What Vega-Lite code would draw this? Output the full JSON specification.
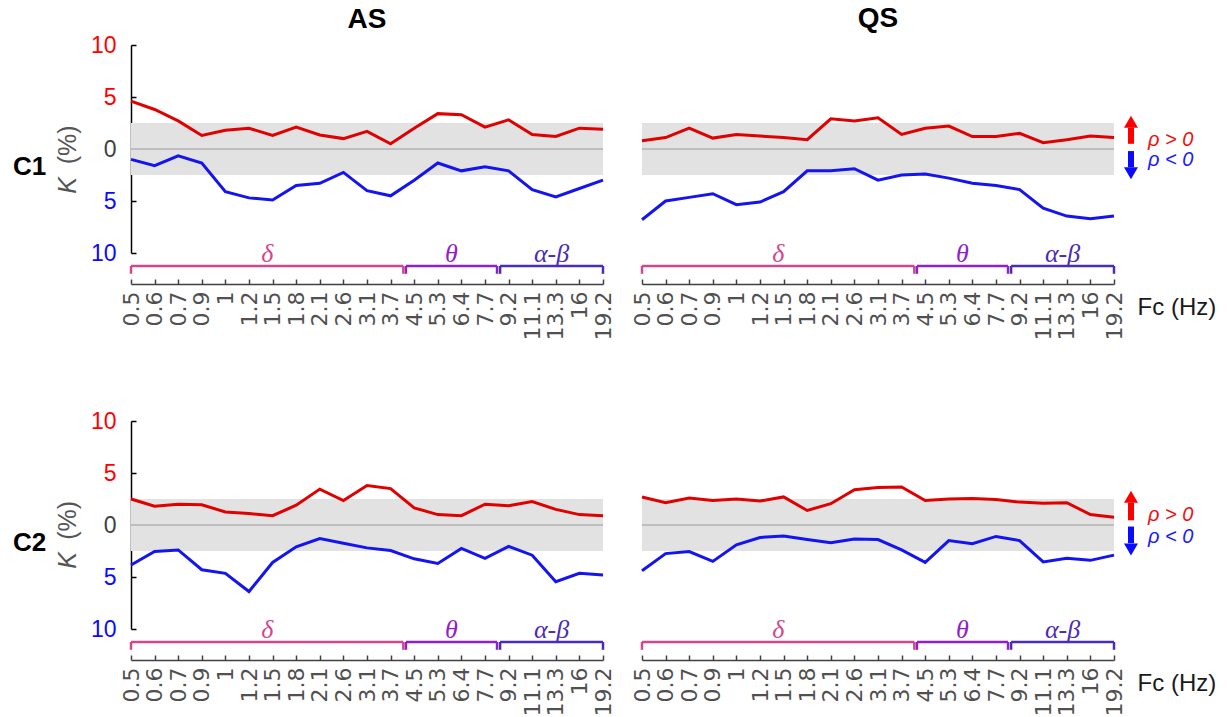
{
"$schema": "https://vega.github.io/schema/vega-lite/v6.json",
"padding": {"left": 12, "top": 5, "right": 5, "bottom": 5},
"background": "white",
"config": {"view": {"stroke": null}, "font": "Liberation Sans", "title": {"fontSize": 28, "fontWeight": "bold", "color": "#000000", "anchor": "middle"}},
"datasets": {"bands": [
 {"band": "δ", "start": 0, "end": 11.54, "mid": 5.77},
 {"band": "θ", "start": 11.65, "end": 15.51, "mid": 13.58},
 {"band": "α-β", "start": 15.64, "end": 20, "mid": 17.82}
]},
"data": {"values": [
{"ch":"C1","st":"AS","fc":"0.5","i":0,"pos":4.6,"neg":-1.0},
{"ch":"C1","st":"AS","fc":"0.6","i":1,"pos":3.8,"neg":-1.6},
{"ch":"C1","st":"AS","fc":"0.7","i":2,"pos":2.7,"neg":-0.65},
{"ch":"C1","st":"AS","fc":"0.9","i":3,"pos":1.3,"neg":-1.35},
{"ch":"C1","st":"AS","fc":"1","i":4,"pos":1.8,"neg":-4.1},
{"ch":"C1","st":"AS","fc":"1.2","i":5,"pos":2.0,"neg":-4.7},
{"ch":"C1","st":"AS","fc":"1.5","i":6,"pos":1.3,"neg":-4.9},
{"ch":"C1","st":"AS","fc":"1.8","i":7,"pos":2.1,"neg":-3.5},
{"ch":"C1","st":"AS","fc":"2.1","i":8,"pos":1.35,"neg":-3.3},
{"ch":"C1","st":"AS","fc":"2.6","i":9,"pos":1.0,"neg":-2.25},
{"ch":"C1","st":"AS","fc":"3.1","i":10,"pos":1.7,"neg":-4.0},
{"ch":"C1","st":"AS","fc":"3.7","i":11,"pos":0.5,"neg":-4.5},
{"ch":"C1","st":"AS","fc":"4.5","i":12,"pos":2.0,"neg":-3.0},
{"ch":"C1","st":"AS","fc":"5.3","i":13,"pos":3.4,"neg":-1.35},
{"ch":"C1","st":"AS","fc":"6.4","i":14,"pos":3.3,"neg":-2.1},
{"ch":"C1","st":"AS","fc":"7.7","i":15,"pos":2.1,"neg":-1.7},
{"ch":"C1","st":"AS","fc":"9.2","i":16,"pos":2.8,"neg":-2.1},
{"ch":"C1","st":"AS","fc":"11.1","i":17,"pos":1.4,"neg":-3.9},
{"ch":"C1","st":"AS","fc":"13.3","i":18,"pos":1.2,"neg":-4.6},
{"ch":"C1","st":"AS","fc":"16","i":19,"pos":2.0,"neg":-3.8},
{"ch":"C1","st":"AS","fc":"19.2","i":20,"pos":1.9,"neg":-3.0},
{"ch":"C1","st":"QS","fc":"0.5","i":0,"pos":0.8,"neg":-6.8},
{"ch":"C1","st":"QS","fc":"0.6","i":1,"pos":1.1,"neg":-5.0},
{"ch":"C1","st":"QS","fc":"0.7","i":2,"pos":2.0,"neg":-4.65},
{"ch":"C1","st":"QS","fc":"0.9","i":3,"pos":1.05,"neg":-4.3},
{"ch":"C1","st":"QS","fc":"1","i":4,"pos":1.4,"neg":-5.35},
{"ch":"C1","st":"QS","fc":"1.2","i":5,"pos":1.25,"neg":-5.1},
{"ch":"C1","st":"QS","fc":"1.5","i":6,"pos":1.1,"neg":-4.1},
{"ch":"C1","st":"QS","fc":"1.8","i":7,"pos":0.9,"neg":-2.1},
{"ch":"C1","st":"QS","fc":"2.1","i":8,"pos":2.9,"neg":-2.1},
{"ch":"C1","st":"QS","fc":"2.6","i":9,"pos":2.7,"neg":-1.9},
{"ch":"C1","st":"QS","fc":"3.1","i":10,"pos":3.0,"neg":-3.0},
{"ch":"C1","st":"QS","fc":"3.7","i":11,"pos":1.4,"neg":-2.5},
{"ch":"C1","st":"QS","fc":"4.5","i":12,"pos":2.0,"neg":-2.4},
{"ch":"C1","st":"QS","fc":"5.3","i":13,"pos":2.2,"neg":-2.8},
{"ch":"C1","st":"QS","fc":"6.4","i":14,"pos":1.2,"neg":-3.3},
{"ch":"C1","st":"QS","fc":"7.7","i":15,"pos":1.2,"neg":-3.5},
{"ch":"C1","st":"QS","fc":"9.2","i":16,"pos":1.5,"neg":-3.9},
{"ch":"C1","st":"QS","fc":"11.1","i":17,"pos":0.6,"neg":-5.7},
{"ch":"C1","st":"QS","fc":"13.3","i":18,"pos":0.9,"neg":-6.45},
{"ch":"C1","st":"QS","fc":"16","i":19,"pos":1.25,"neg":-6.7},
{"ch":"C1","st":"QS","fc":"19.2","i":20,"pos":1.1,"neg":-6.45},
{"ch":"C2","st":"AS","fc":"0.5","i":0,"pos":2.5,"neg":-3.85},
{"ch":"C2","st":"AS","fc":"0.6","i":1,"pos":1.8,"neg":-2.55},
{"ch":"C2","st":"AS","fc":"0.7","i":2,"pos":2.0,"neg":-2.4},
{"ch":"C2","st":"AS","fc":"0.9","i":3,"pos":1.95,"neg":-4.3},
{"ch":"C2","st":"AS","fc":"1","i":4,"pos":1.25,"neg":-4.65},
{"ch":"C2","st":"AS","fc":"1.2","i":5,"pos":1.1,"neg":-6.4},
{"ch":"C2","st":"AS","fc":"1.5","i":6,"pos":0.9,"neg":-3.6},
{"ch":"C2","st":"AS","fc":"1.8","i":7,"pos":1.9,"neg":-2.1},
{"ch":"C2","st":"AS","fc":"2.1","i":8,"pos":3.45,"neg":-1.3},
{"ch":"C2","st":"AS","fc":"2.6","i":9,"pos":2.35,"neg":-1.75},
{"ch":"C2","st":"AS","fc":"3.1","i":10,"pos":3.8,"neg":-2.2},
{"ch":"C2","st":"AS","fc":"3.7","i":11,"pos":3.5,"neg":-2.45},
{"ch":"C2","st":"AS","fc":"4.5","i":12,"pos":1.65,"neg":-3.25},
{"ch":"C2","st":"AS","fc":"5.3","i":13,"pos":1.0,"neg":-3.7},
{"ch":"C2","st":"AS","fc":"6.4","i":14,"pos":0.9,"neg":-2.25},
{"ch":"C2","st":"AS","fc":"7.7","i":15,"pos":2.0,"neg":-3.2},
{"ch":"C2","st":"AS","fc":"9.2","i":16,"pos":1.85,"neg":-2.05},
{"ch":"C2","st":"AS","fc":"11.1","i":17,"pos":2.25,"neg":-2.9},
{"ch":"C2","st":"AS","fc":"13.3","i":18,"pos":1.5,"neg":-5.45},
{"ch":"C2","st":"AS","fc":"16","i":19,"pos":1.0,"neg":-4.65},
{"ch":"C2","st":"AS","fc":"19.2","i":20,"pos":0.9,"neg":-4.8},
{"ch":"C2","st":"QS","fc":"0.5","i":0,"pos":2.7,"neg":-4.4},
{"ch":"C2","st":"QS","fc":"0.6","i":1,"pos":2.15,"neg":-2.75},
{"ch":"C2","st":"QS","fc":"0.7","i":2,"pos":2.6,"neg":-2.55},
{"ch":"C2","st":"QS","fc":"0.9","i":3,"pos":2.35,"neg":-3.5},
{"ch":"C2","st":"QS","fc":"1","i":4,"pos":2.5,"neg":-1.9},
{"ch":"C2","st":"QS","fc":"1.2","i":5,"pos":2.3,"neg":-1.2},
{"ch":"C2","st":"QS","fc":"1.5","i":6,"pos":2.7,"neg":-1.05},
{"ch":"C2","st":"QS","fc":"1.8","i":7,"pos":1.4,"neg":-1.4},
{"ch":"C2","st":"QS","fc":"2.1","i":8,"pos":2.05,"neg":-1.7},
{"ch":"C2","st":"QS","fc":"2.6","i":9,"pos":3.4,"neg":-1.35},
{"ch":"C2","st":"QS","fc":"3.1","i":10,"pos":3.6,"neg":-1.4},
{"ch":"C2","st":"QS","fc":"3.7","i":11,"pos":3.65,"neg":-2.4},
{"ch":"C2","st":"QS","fc":"4.5","i":12,"pos":2.35,"neg":-3.6},
{"ch":"C2","st":"QS","fc":"5.3","i":13,"pos":2.5,"neg":-1.5},
{"ch":"C2","st":"QS","fc":"6.4","i":14,"pos":2.55,"neg":-1.8},
{"ch":"C2","st":"QS","fc":"7.7","i":15,"pos":2.45,"neg":-1.1},
{"ch":"C2","st":"QS","fc":"9.2","i":16,"pos":2.2,"neg":-1.5},
{"ch":"C2","st":"QS","fc":"11.1","i":17,"pos":2.1,"neg":-3.55},
{"ch":"C2","st":"QS","fc":"13.3","i":18,"pos":2.15,"neg":-3.2},
{"ch":"C2","st":"QS","fc":"16","i":19,"pos":1.0,"neg":-3.4},
{"ch":"C2","st":"QS","fc":"19.2","i":20,"pos":0.75,"neg":-2.9}
]},
"columns": 2,
"bounds": "flush",
"spacing": {"row": 168, "column": 39},
"concat": [
{
 "width": 472, "height": 208,
 "title": {"text": "AS", "offset": 0},
 "resolve": {"scale": {"x": "independent"}, "axis": {"x": "independent"}},
 "layer": [
  {"layer": [
   {"data": {"values": [{}]}, "mark": {"type": "rect", "color": "#e2e2e2"},
    "encoding": {
     "x": {"datum": "0.5", "type": "ordinal", "scale": {"type": "point", "padding": 0, "domain": ["0.5","0.6","0.7","0.9","1","1.2","1.5","1.8","2.1","2.6","3.1","3.7","4.5","5.3","6.4","7.7","9.2","11.1","13.3","16","19.2"]},
       "axis": {"labelAngle": 270, "labelAlign": "right", "labelBaseline": "middle", "labelFont": "DejaVu Sans", "labelFontSize": 22, "labelColor": "#505050", "labelPadding": 12, "labelOverlap": false, "domainColor": "#404040", "domainWidth": 1.5, "tickColor": "#404040", "tickWidth": 1.5, "tickSize": -5, "offset": 31, "grid": false, "title": null}},
     "x2": {"datum": "19.2"},
     "y": {"datum": -2.5, "type": "quantitative", "scale": {"domain": [-10, 10], "nice": false, "zero": false},
       "axis": {"values": [-10, -5, 0, 5, 10], "labelExpr": "abs(datum.value)", "labelFont": "Liberation Sans", "labelFontSize": 23, "labelColor": {"condition": [{"test": "datum.value > 0", "value": "#ff0000"}, {"test": "datum.value < 0", "value": "#0a0aff"}], "value": "#404040"}, "labelPadding": 20, "domainColor": "#000000", "domainWidth": 1.5, "tickColor": "#000000", "tickWidth": 1.5, "tickSize": -5, "grid": false, "title": null}},
     "y2": {"datum": 2.5}
    }},
   {"data": {"values": [{}]}, "mark": {"type": "rule", "color": "#9a9a9a", "strokeWidth": 1}, "encoding": {"x": {"datum": "0.5", "type": "ordinal"}, "x2": {"datum": "19.2"}, "y": {"datum": 0}}},
   {"transform": [{"filter": "datum.ch == 'C1' && datum.st == 'AS'"}], "mark": {"type": "line", "color": "#e00000", "strokeWidth": 3}, "encoding": {"x": {"field": "fc", "type": "ordinal", "title": null}, "y": {"field": "pos", "type": "quantitative", "title": null}, "order": {"field": "i"}}},
   {"transform": [{"filter": "datum.ch == 'C1' && datum.st == 'AS'"}], "mark": {"type": "line", "color": "#1414f0", "strokeWidth": 3}, "encoding": {"x": {"field": "fc", "type": "ordinal", "title": null}, "y": {"field": "neg", "type": "quantitative", "title": null}, "order": {"field": "i"}}}
  ]},
  {"layer": [
   {"data": {"name": "bands"}, "mark": {"type": "rule", "strokeWidth": 2.5}, "encoding": {"x": {"field": "start", "type": "quantitative", "scale": {"domain": [0, 20], "nice": false, "zero": false}, "axis": null}, "x2": {"field": "end"}, "y": {"datum": -11.25}, "color": {"field": "band", "type": "nominal", "scale": {"domain": ["δ", "θ", "α-β"], "range": ["#d0478f", "#9020c8", "#4a2cb6"]}, "legend": null}}},
   {"data": {"name": "bands"}, "mark": {"type": "rule", "strokeWidth": 2.5}, "encoding": {"x": {"field": "start", "type": "quantitative", "axis": null}, "y": {"datum": -11.25}, "y2": {"datum": -12.0}, "color": {"field": "band", "type": "nominal", "legend": null}}},
   {"data": {"name": "bands"}, "mark": {"type": "rule", "strokeWidth": 2.5}, "encoding": {"x": {"field": "end", "type": "quantitative", "axis": null}, "y": {"datum": -11.25}, "y2": {"datum": -12.0}, "color": {"field": "band", "type": "nominal", "legend": null}}},
   {"data": {"name": "bands"}, "mark": {"type": "text", "font": "Liberation Serif", "fontStyle": "italic", "fontSize": 26, "baseline": "alphabetic", "align": "center"}, "encoding": {"x": {"field": "mid", "type": "quantitative", "axis": null}, "y": {"datum": -10.9}, "text": {"field": "band"}, "color": {"field": "band", "type": "nominal", "legend": null}}},
   {"data": {"values": [{}]}, "mark": {"type": "text", "fontWeight": "bold", "fontSize": 26, "color": "#000000", "align": "center", "baseline": "middle"}, "encoding": {"x": {"datum": -4.3, "axis": null}, "y": {"datum": -1.7}, "text": {"value": "C1"}}},
   {"data": {"values": [{}]}, "mark": {"type": "text", "fontStyle": "italic", "fontSize": 25, "color": "#555555", "align": "center", "baseline": "middle", "angle": 270}, "encoding": {"x": {"datum": -2.65, "axis": null}, "y": {"datum": -3.5}, "text": {"value": "K"}}},
   {"data": {"values": [{}]}, "mark": {"type": "text", "fontSize": 25, "color": "#555555", "align": "center", "baseline": "middle", "angle": 270}, "encoding": {"x": {"datum": -2.65, "axis": null}, "y": {"datum": 0.4}, "text": {"value": "(%)"}}}
  ]}
 ]
},
{
 "width": 472, "height": 208,
 "title": {"text": "QS", "offset": 12},
 "resolve": {"scale": {"x": "independent"}, "axis": {"x": "independent"}},
 "layer": [
  {"layer": [
   {"data": {"values": [{}]}, "mark": {"type": "rect", "color": "#e2e2e2"},
    "encoding": {
     "x": {"datum": "0.5", "type": "ordinal", "scale": {"type": "point", "padding": 0, "domain": ["0.5","0.6","0.7","0.9","1","1.2","1.5","1.8","2.1","2.6","3.1","3.7","4.5","5.3","6.4","7.7","9.2","11.1","13.3","16","19.2"]},
       "axis": {"labelAngle": 270, "labelAlign": "right", "labelBaseline": "middle", "labelFont": "DejaVu Sans", "labelFontSize": 22, "labelColor": "#505050", "labelPadding": 12, "labelOverlap": false, "domainColor": "#404040", "domainWidth": 1.5, "tickColor": "#404040", "tickWidth": 1.5, "tickSize": -5, "offset": 31, "grid": false, "title": null}},
     "x2": {"datum": "19.2"},
     "y": {"datum": -2.5, "type": "quantitative", "scale": {"domain": [-10, 10], "nice": false, "zero": false},
       "axis": {"domain": false, "ticks": false, "labels": false, "grid": false, "title": null}},
     "y2": {"datum": 2.5}
    }},
   {"data": {"values": [{}]}, "mark": {"type": "rule", "color": "#9a9a9a", "strokeWidth": 1}, "encoding": {"x": {"datum": "0.5", "type": "ordinal"}, "x2": {"datum": "19.2"}, "y": {"datum": 0}}},
   {"transform": [{"filter": "datum.ch == 'C1' && datum.st == 'QS'"}], "mark": {"type": "line", "color": "#e00000", "strokeWidth": 3}, "encoding": {"x": {"field": "fc", "type": "ordinal", "title": null}, "y": {"field": "pos", "type": "quantitative", "title": null}, "order": {"field": "i"}}},
   {"transform": [{"filter": "datum.ch == 'C1' && datum.st == 'QS'"}], "mark": {"type": "line", "color": "#1414f0", "strokeWidth": 3}, "encoding": {"x": {"field": "fc", "type": "ordinal", "title": null}, "y": {"field": "neg", "type": "quantitative", "title": null}, "order": {"field": "i"}}}
  ]},
  {"layer": [
   {"data": {"name": "bands"}, "mark": {"type": "rule", "strokeWidth": 2.5}, "encoding": {"x": {"field": "start", "type": "quantitative", "scale": {"domain": [0, 20], "nice": false, "zero": false}, "axis": null}, "x2": {"field": "end"}, "y": {"datum": -11.25}, "color": {"field": "band", "type": "nominal", "scale": {"domain": ["δ", "θ", "α-β"], "range": ["#d0478f", "#9020c8", "#4a2cb6"]}, "legend": null}}},
   {"data": {"name": "bands"}, "mark": {"type": "rule", "strokeWidth": 2.5}, "encoding": {"x": {"field": "start", "type": "quantitative", "axis": null}, "y": {"datum": -11.25}, "y2": {"datum": -12.0}, "color": {"field": "band", "type": "nominal", "legend": null}}},
   {"data": {"name": "bands"}, "mark": {"type": "rule", "strokeWidth": 2.5}, "encoding": {"x": {"field": "end", "type": "quantitative", "axis": null}, "y": {"datum": -11.25}, "y2": {"datum": -12.0}, "color": {"field": "band", "type": "nominal", "legend": null}}},
   {"data": {"name": "bands"}, "mark": {"type": "text", "font": "Liberation Serif", "fontStyle": "italic", "fontSize": 26, "baseline": "alphabetic", "align": "center"}, "encoding": {"x": {"field": "mid", "type": "quantitative", "axis": null}, "y": {"datum": -10.9}, "text": {"field": "band"}, "color": {"field": "band", "type": "nominal", "legend": null}}},
   {"data": {"values": [{}]}, "mark": {"type": "rule", "color": "#ff0000", "strokeWidth": 6}, "encoding": {"x": {"datum": 20.72, "axis": null}, "y": {"datum": 0.5}, "y2": {"datum": 2.05}}},
   {"data": {"values": [{}]}, "mark": {"type": "point", "shape": "triangle-up", "filled": true, "size": 196, "color": "#ff0000", "opacity": 1}, "encoding": {"x": {"datum": 20.72, "axis": null}, "y": {"datum": 2.62}}},
   {"data": {"values": [{}]}, "mark": {"type": "rule", "color": "#0a0aff", "strokeWidth": 6}, "encoding": {"x": {"datum": 20.72, "axis": null}, "y": {"datum": -0.2}, "y2": {"datum": -1.75}}},
   {"data": {"values": [{}]}, "mark": {"type": "point", "shape": "triangle-down", "filled": true, "size": 196, "color": "#0a0aff", "opacity": 1}, "encoding": {"x": {"datum": 20.72, "axis": null}, "y": {"datum": -2.33}}},
   {"data": {"values": [{}]}, "mark": {"type": "text", "fontStyle": "italic", "fontSize": 20, "color": "#f01010", "align": "left", "baseline": "alphabetic"}, "encoding": {"x": {"datum": 21.44, "axis": null}, "y": {"datum": 0.32}, "text": {"value": "ρ > 0"}}},
   {"data": {"values": [{}]}, "mark": {"type": "text", "fontStyle": "italic", "fontSize": 20, "color": "#1a1aff", "align": "left", "baseline": "alphabetic"}, "encoding": {"x": {"datum": 21.44, "axis": null}, "y": {"datum": -1.65}, "text": {"value": "ρ < 0"}}},
   {"data": {"values": [{}]}, "mark": {"type": "text", "fontSize": 24, "color": "#1a1a1a", "align": "left", "baseline": "middle"}, "encoding": {"x": {"datum": 21.0, "axis": null}, "y": {"datum": -15.3}, "text": {"value": "Fc (Hz)"}}}
  ]}
 ]
},
{
 "width": 472, "height": 208,
 "resolve": {"scale": {"x": "independent"}, "axis": {"x": "independent"}},
 "layer": [
  {"layer": [
   {"data": {"values": [{}]}, "mark": {"type": "rect", "color": "#e2e2e2"},
    "encoding": {
     "x": {"datum": "0.5", "type": "ordinal", "scale": {"type": "point", "padding": 0, "domain": ["0.5","0.6","0.7","0.9","1","1.2","1.5","1.8","2.1","2.6","3.1","3.7","4.5","5.3","6.4","7.7","9.2","11.1","13.3","16","19.2"]},
       "axis": {"labelAngle": 270, "labelAlign": "right", "labelBaseline": "middle", "labelFont": "DejaVu Sans", "labelFontSize": 22, "labelColor": "#505050", "labelPadding": 12, "labelOverlap": false, "domainColor": "#404040", "domainWidth": 1.5, "tickColor": "#404040", "tickWidth": 1.5, "tickSize": -5, "offset": 31, "grid": false, "title": null}},
     "x2": {"datum": "19.2"},
     "y": {"datum": -2.5, "type": "quantitative", "scale": {"domain": [-10, 10], "nice": false, "zero": false},
       "axis": {"values": [-10, -5, 0, 5, 10], "labelExpr": "abs(datum.value)", "labelFont": "Liberation Sans", "labelFontSize": 23, "labelColor": {"condition": [{"test": "datum.value > 0", "value": "#ff0000"}, {"test": "datum.value < 0", "value": "#0a0aff"}], "value": "#404040"}, "labelPadding": 20, "domainColor": "#000000", "domainWidth": 1.5, "tickColor": "#000000", "tickWidth": 1.5, "tickSize": -5, "grid": false, "title": null}},
     "y2": {"datum": 2.5}
    }},
   {"data": {"values": [{}]}, "mark": {"type": "rule", "color": "#9a9a9a", "strokeWidth": 1}, "encoding": {"x": {"datum": "0.5", "type": "ordinal"}, "x2": {"datum": "19.2"}, "y": {"datum": 0}}},
   {"transform": [{"filter": "datum.ch == 'C2' && datum.st == 'AS'"}], "mark": {"type": "line", "color": "#e00000", "strokeWidth": 3}, "encoding": {"x": {"field": "fc", "type": "ordinal", "title": null}, "y": {"field": "pos", "type": "quantitative", "title": null}, "order": {"field": "i"}}},
   {"transform": [{"filter": "datum.ch == 'C2' && datum.st == 'AS'"}], "mark": {"type": "line", "color": "#1414f0", "strokeWidth": 3}, "encoding": {"x": {"field": "fc", "type": "ordinal", "title": null}, "y": {"field": "neg", "type": "quantitative", "title": null}, "order": {"field": "i"}}}
  ]},
  {"layer": [
   {"data": {"name": "bands"}, "mark": {"type": "rule", "strokeWidth": 2.5}, "encoding": {"x": {"field": "start", "type": "quantitative", "scale": {"domain": [0, 20], "nice": false, "zero": false}, "axis": null}, "x2": {"field": "end"}, "y": {"datum": -11.25}, "color": {"field": "band", "type": "nominal", "scale": {"domain": ["δ", "θ", "α-β"], "range": ["#d0478f", "#9020c8", "#4a2cb6"]}, "legend": null}}},
   {"data": {"name": "bands"}, "mark": {"type": "rule", "strokeWidth": 2.5}, "encoding": {"x": {"field": "start", "type": "quantitative", "axis": null}, "y": {"datum": -11.25}, "y2": {"datum": -12.0}, "color": {"field": "band", "type": "nominal", "legend": null}}},
   {"data": {"name": "bands"}, "mark": {"type": "rule", "strokeWidth": 2.5}, "encoding": {"x": {"field": "end", "type": "quantitative", "axis": null}, "y": {"datum": -11.25}, "y2": {"datum": -12.0}, "color": {"field": "band", "type": "nominal", "legend": null}}},
   {"data": {"name": "bands"}, "mark": {"type": "text", "font": "Liberation Serif", "fontStyle": "italic", "fontSize": 26, "baseline": "alphabetic", "align": "center"}, "encoding": {"x": {"field": "mid", "type": "quantitative", "axis": null}, "y": {"datum": -10.9}, "text": {"field": "band"}, "color": {"field": "band", "type": "nominal", "legend": null}}},
   {"data": {"values": [{}]}, "mark": {"type": "text", "fontWeight": "bold", "fontSize": 26, "color": "#000000", "align": "center", "baseline": "middle"}, "encoding": {"x": {"datum": -4.3, "axis": null}, "y": {"datum": -1.7}, "text": {"value": "C2"}}},
   {"data": {"values": [{}]}, "mark": {"type": "text", "fontStyle": "italic", "fontSize": 25, "color": "#555555", "align": "center", "baseline": "middle", "angle": 270}, "encoding": {"x": {"datum": -2.65, "axis": null}, "y": {"datum": -3.4}, "text": {"value": "K"}}},
   {"data": {"values": [{}]}, "mark": {"type": "text", "fontSize": 25, "color": "#555555", "align": "center", "baseline": "middle", "angle": 270}, "encoding": {"x": {"datum": -2.65, "axis": null}, "y": {"datum": 0.45}, "text": {"value": "(%)"}}}
  ]}
 ]
},
{
 "width": 472, "height": 208,
 "resolve": {"scale": {"x": "independent"}, "axis": {"x": "independent"}},
 "layer": [
  {"layer": [
   {"data": {"values": [{}]}, "mark": {"type": "rect", "color": "#e2e2e2"},
    "encoding": {
     "x": {"datum": "0.5", "type": "ordinal", "scale": {"type": "point", "padding": 0, "domain": ["0.5","0.6","0.7","0.9","1","1.2","1.5","1.8","2.1","2.6","3.1","3.7","4.5","5.3","6.4","7.7","9.2","11.1","13.3","16","19.2"]},
       "axis": {"labelAngle": 270, "labelAlign": "right", "labelBaseline": "middle", "labelFont": "DejaVu Sans", "labelFontSize": 22, "labelColor": "#505050", "labelPadding": 12, "labelOverlap": false, "domainColor": "#404040", "domainWidth": 1.5, "tickColor": "#404040", "tickWidth": 1.5, "tickSize": -5, "offset": 31, "grid": false, "title": null}},
     "x2": {"datum": "19.2"},
     "y": {"datum": -2.5, "type": "quantitative", "scale": {"domain": [-10, 10], "nice": false, "zero": false},
       "axis": {"domain": false, "ticks": false, "labels": false, "grid": false, "title": null}},
     "y2": {"datum": 2.5}
    }},
   {"data": {"values": [{}]}, "mark": {"type": "rule", "color": "#9a9a9a", "strokeWidth": 1}, "encoding": {"x": {"datum": "0.5", "type": "ordinal"}, "x2": {"datum": "19.2"}, "y": {"datum": 0}}},
   {"transform": [{"filter": "datum.ch == 'C2' && datum.st == 'QS'"}], "mark": {"type": "line", "color": "#e00000", "strokeWidth": 3}, "encoding": {"x": {"field": "fc", "type": "ordinal", "title": null}, "y": {"field": "pos", "type": "quantitative", "title": null}, "order": {"field": "i"}}},
   {"transform": [{"filter": "datum.ch == 'C2' && datum.st == 'QS'"}], "mark": {"type": "line", "color": "#1414f0", "strokeWidth": 3}, "encoding": {"x": {"field": "fc", "type": "ordinal", "title": null}, "y": {"field": "neg", "type": "quantitative", "title": null}, "order": {"field": "i"}}}
  ]},
  {"layer": [
   {"data": {"name": "bands"}, "mark": {"type": "rule", "strokeWidth": 2.5}, "encoding": {"x": {"field": "start", "type": "quantitative", "scale": {"domain": [0, 20], "nice": false, "zero": false}, "axis": null}, "x2": {"field": "end"}, "y": {"datum": -11.25}, "color": {"field": "band", "type": "nominal", "scale": {"domain": ["δ", "θ", "α-β"], "range": ["#d0478f", "#9020c8", "#4a2cb6"]}, "legend": null}}},
   {"data": {"name": "bands"}, "mark": {"type": "rule", "strokeWidth": 2.5}, "encoding": {"x": {"field": "start", "type": "quantitative", "axis": null}, "y": {"datum": -11.25}, "y2": {"datum": -12.0}, "color": {"field": "band", "type": "nominal", "legend": null}}},
   {"data": {"name": "bands"}, "mark": {"type": "rule", "strokeWidth": 2.5}, "encoding": {"x": {"field": "end", "type": "quantitative", "axis": null}, "y": {"datum": -11.25}, "y2": {"datum": -12.0}, "color": {"field": "band", "type": "nominal", "legend": null}}},
   {"data": {"name": "bands"}, "mark": {"type": "text", "font": "Liberation Serif", "fontStyle": "italic", "fontSize": 26, "baseline": "alphabetic", "align": "center"}, "encoding": {"x": {"field": "mid", "type": "quantitative", "axis": null}, "y": {"datum": -10.9}, "text": {"field": "band"}, "color": {"field": "band", "type": "nominal", "legend": null}}},
   {"data": {"values": [{}]}, "mark": {"type": "rule", "color": "#ff0000", "strokeWidth": 6}, "encoding": {"x": {"datum": 20.72, "axis": null}, "y": {"datum": 0.45}, "y2": {"datum": 2.15}}},
   {"data": {"values": [{}]}, "mark": {"type": "point", "shape": "triangle-up", "filled": true, "size": 196, "color": "#ff0000", "opacity": 1}, "encoding": {"x": {"datum": 20.72, "axis": null}, "y": {"datum": 2.72}}},
   {"data": {"values": [{}]}, "mark": {"type": "rule", "color": "#0a0aff", "strokeWidth": 6}, "encoding": {"x": {"datum": 20.72, "axis": null}, "y": {"datum": -0.15}, "y2": {"datum": -1.75}}},
   {"data": {"values": [{}]}, "mark": {"type": "point", "shape": "triangle-down", "filled": true, "size": 196, "color": "#0a0aff", "opacity": 1}, "encoding": {"x": {"datum": 20.72, "axis": null}, "y": {"datum": -2.35}}},
   {"data": {"values": [{}]}, "mark": {"type": "text", "fontStyle": "italic", "fontSize": 20, "color": "#f01010", "align": "left", "baseline": "alphabetic"}, "encoding": {"x": {"datum": 21.44, "axis": null}, "y": {"datum": 0.34}, "text": {"value": "ρ > 0"}}},
   {"data": {"values": [{}]}, "mark": {"type": "text", "fontStyle": "italic", "fontSize": 20, "color": "#1a1aff", "align": "left", "baseline": "alphabetic"}, "encoding": {"x": {"datum": 21.44, "axis": null}, "y": {"datum": -1.75}, "text": {"value": "ρ < 0"}}},
   {"data": {"values": [{}]}, "mark": {"type": "text", "fontSize": 24, "color": "#1a1a1a", "align": "left", "baseline": "middle"}, "encoding": {"x": {"datum": 21.0, "axis": null}, "y": {"datum": -15.3}, "text": {"value": "Fc (Hz)"}}}
  ]}
 ]
}
]
}
